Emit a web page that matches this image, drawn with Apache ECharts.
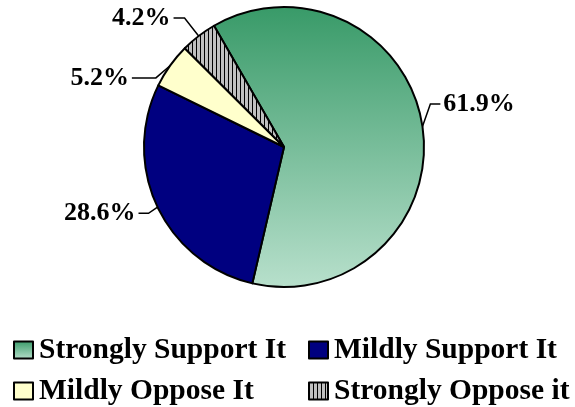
<!DOCTYPE html>
<html>
<head>
<meta charset="utf-8">
<script src="https://cdn.jsdelivr.net/npm/echarts@6/dist/echarts.min.js"></script>
<style>
html,body{margin:0;padding:0;background:#fff;}
#chart{width:575px;height:407px;}
</style>
</head>
<body>
<div id="chart"></div>
<script>
// ---- data ----
var categories = ['Strongly Support It', 'Mildly Support It', 'Mildly Oppose It', 'Strongly Oppose it'];
var values = [61.9, 28.6, 5.2, 4.2];

// ---- styles ----
var FONT = "'Liberation Serif','Times New Roman',serif";
var hatch = document.createElement('canvas');
hatch.width = 4; hatch.height = 4;
var hctx = hatch.getContext('2d');
hctx.fillStyle = '#c0c0c0'; hctx.fillRect(0, 0, 4, 4);
hctx.fillStyle = '#000000'; hctx.fillRect(0, 0, 1, 4);

var greenGrad = new echarts.graphic.LinearGradient(0, 0, 0, 1, [
  {offset: 0, color: '#389a68'},
  {offset: 1, color: '#b8e0cc'}
]);
var colors = [greenGrad, '#000080', '#ffffcc', {image: hatch, repeat: 'repeat'}];

// label offsets (style tweaks for label placement)
var labelDx = [-2, 0, -20, -9];
var labelDy = [-21, 2, 18, -10];
var bendDx = [-2, 0, -6, -8];

// legend grid placement: [left, top] per category
var legendPos = [[13, 335], [308, 335], [13, 376], [308, 376]];

var chart = echarts.init(document.getElementById('chart'), null, {renderer: 'canvas'});

var legends = categories.map(function (c, i) {
  return {
    orient: 'horizontal',
    left: legendPos[i][0],
    top: legendPos[i][1],
    itemWidth: 19,
    itemHeight: 17,
    itemGap: 0,
    icon: 'rect',
    padding: 0,
    selectedMode: false,
    data: [c],
    textStyle: {fontFamily: FONT, fontWeight: 'bold', fontSize: 29.5, color: '#000', lineHeight: 21, padding: [0, 0, 0, 1]},
    itemStyle: {borderColor: '#000', borderWidth: 2}
  };
});

chart.setOption({
  animation: false,
  backgroundColor: '#fff',
  legend: legends,
  series: [{
    type: 'pie',
    center: [284, 147],
    radius: 140,
    startAngle: 120,
    clockwise: true,
    avoidLabelOverlap: false,
    itemStyle: {borderColor: '#000', borderWidth: 2},
    label: {
      show: true,
      position: 'outside',
      formatter: function (p) { return p.value.toFixed(1) + '%'; },
      fontFamily: FONT,
      fontWeight: 'bold',
      fontSize: 26,
      color: '#000',
      distanceToLabelLine: 3
    },
    labelLine: {show: true, length: 10, length2: 10, lineStyle: {color: '#000', width: 1.5}},
    labelLayout: function (params) {
      var i = params.dataIndex;
      var pts = params.labelLinePoints;
      var out = {dx: labelDx[i], dy: labelDy[i]};
      if (pts && pts.length === 3) {
        out.labelLinePoints = [
          [pts[0][0], pts[0][1]],
          [pts[1][0] + bendDx[i], pts[1][1] + labelDy[i]],
          [pts[2][0] + labelDx[i], pts[2][1] + labelDy[i]]
        ];
      }
      return out;
    },
    emphasis: {disabled: true},
    data: categories.map(function (c, i) {
      return {name: c, value: values[i], itemStyle: {color: colors[i]}};
    })
  }]
});
</script>
</body>
</html>
